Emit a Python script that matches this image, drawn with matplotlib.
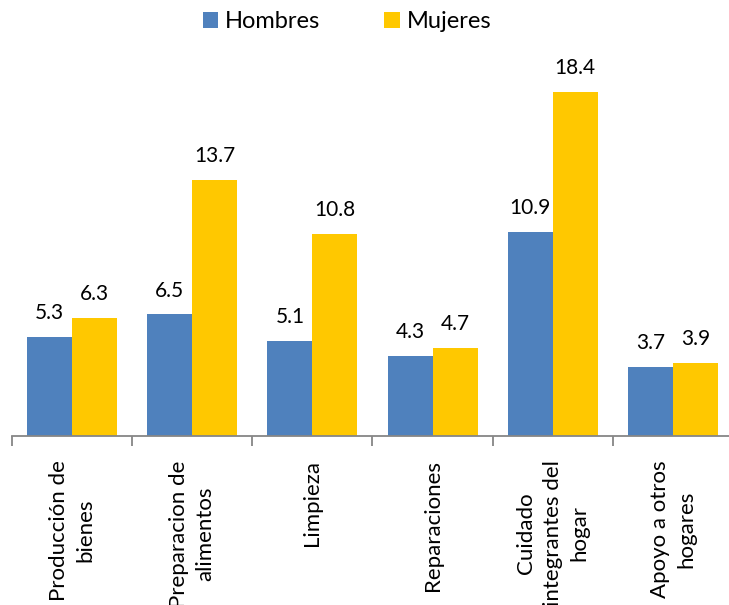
import numpy as np
import matplotlib.pyplot as plt

categorias = ["Producción de\nbienes", "Preparacion de\nalimentos", "Limpieza",
              "Reparaciones", "Cuidado\nintegrantes del\nhogar", "Apoyo a otros\nhogares"]
hombres = [5.3, 6.5, 5.1, 4.3, 10.9, 3.7]
mujeres = [6.3, 13.7, 10.8, 4.7, 18.4, 3.9]

azul = "#4F81BD"
amarillo = "#FFC800"
fuente = "Lato"

fig = plt.figure(figsize=(7.29, 6.05), dpi=100)
# el eje sigue mas alla del borde derecho, como en el original
ax = fig.add_axes([12 / 729, (605 - 436) / 605, 721 / 729, 374 / 605])

x = np.arange(len(categorias))
ancho = 0.375
b1 = ax.bar(x - ancho / 2, hombres, ancho, color=azul, label="Hombres")
b2 = ax.bar(x + ancho / 2, mujeres, ancho, color=amarillo, label="Mujeres")

for barras in (b1, b2):
    ax.bar_label(barras, labels=[f"{v:.1f}" for v in barras.datavalues],
                 padding=10, fontsize=15, family=fuente)

ax.set_xlim(-0.5, 5.5)
ax.set_ylim(0, 20)
ax.set_yticks([])
for lado in ["top", "right", "left"]:
    ax.spines[lado].set_visible(False)
ax.spines["bottom"].set_color("#868686")
ax.spines["bottom"].set_linewidth(1.3)

ax.set_xticks(x)
ax.set_xticklabels([])
ax.tick_params(axis="x", which="major", length=0)
ax.set_xticks(np.arange(-0.5, 6, 1), minor=True)
ax.tick_params(axis="x", which="minor", length=7, width=1.3, color="#868686")

for i, c in enumerate(categorias):
    ax.text(i, -1.3, c, rotation=90, ha="center", va="top", multialignment="center",
            fontsize=16, family=fuente, linespacing=1.4, clip_on=False)

ax.legend(loc="center", bbox_to_anchor=(335 / 721, (436 - 22) / 374), ncol=2,
          frameon=False, prop={"family": fuente, "size": 17},
          handlelength=0.65, handleheight=0.65, handletextpad=0.3, columnspacing=2.7)

fig.savefig("out.png", dpi=100)
